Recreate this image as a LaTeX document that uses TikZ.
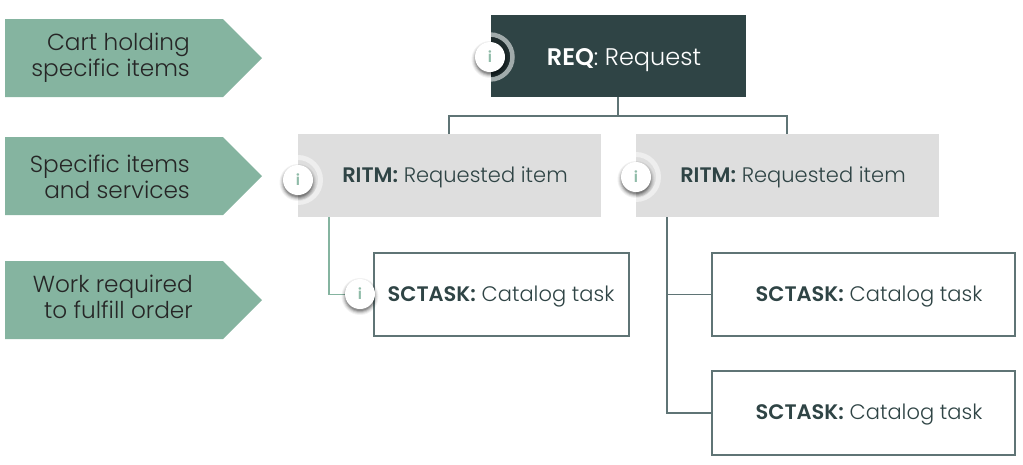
\documentclass[tikz,border=0pt]{standalone}
\usepackage{fontspec}
\setmainfont{Poppins}[UprightFont=* Light,BoldFont=* SemiBold]
\definecolor{dark}{HTML}{2F4445}
\definecolor{sage}{HTML}{85B4A0}
\definecolor{lgray}{HTML}{DEDEDE}
\definecolor{conn}{HTML}{5F7475}
\definecolor{tgreen}{HTML}{8FBBA8}
\newcommand{\pent}[1]{\fill[sage] (5,#1) -- (223,#1) -- (262,#1+39) -- (223,#1+78) -- (5,#1+78) -- cycle;}
\newcommand{\softshadow}[2]{%
  \foreach \r/\o in {18.5/.05,17.5/.07,16.5/.10,15.5/.14,14.5/.18}
    {\fill[black,opacity=\o] (#1,#2+2.5) circle (\r);}}
\tikzset{
  x=1pt,y=-1pt,
  box/.style={rectangle,inner sep=0pt,outer sep=0pt,anchor=north west},
  reqbox/.style={box,fill=dark,minimum width=255pt,minimum height=82pt},
  ritmbox/.style={box,fill=lgray,minimum width=303pt,minimum height=83pt},
  taskbox/.style={box,draw=conn,line width=1.1pt,fill=white},
  lab/.style={inner sep=0pt,anchor=east,align=right,text=black!85,font=\fontsize{23.2}{26}\selectfont},
  line/.style={draw=conn,line width=1.2pt},
  gline/.style={draw=sage,line width=1.2pt},
  badge/.style={circle,fill=white,minimum size=30pt,inner sep=0pt,text=tgreen,
    font=\bfseries\fontsize{15}{15}\selectfont},
  boxtext/.style={text=dark,font=\fontsize{21}{25}\selectfont},
}
\begin{document}
\begin{tikzpicture}
\useasboundingbox (0,0) rectangle (1023,464);
\pent{19}\pent{137}\pent{261}
\node[lab] (la) at (190,58) {Cart holding\\specific items};
\node[lab] (lb) at (190,176.5) {Specific items\\and services};
\node[lab] (lc) at (193,296.5) {Work required\\to fulfill order};

\node[reqbox] (req) at (491,15) {};
\node[ritmbox] (r1) at (298,134) {};
\node[ritmbox] (r2) at (636,134) {};
\node[taskbox,minimum width=255pt,minimum height=83pt] (t1) at (374,253) {};
\node[taskbox,minimum width=303pt,minimum height=83pt] (t2) at (712,253) {};
\node[taskbox,minimum width=303pt,minimum height=84pt] (t3) at (712,371) {};

\coordinate (jr) at (618,116);
\draw[line] (req.south -| jr) -- (jr);
\draw[line] (449,134) |- (787,116) -- (787,134);
\draw[gline] (329,217) |- (t1.west);
\draw[line] (667,217) |- (t3.west);
\draw[line] (667,294.5) -- (t2.west);

\begin{scope}
\clip (491,15) rectangle (746,97);
\fill[black!35!dark] (490,57) circle (21);
\draw[draw=white!55!dark,line width=4.5pt] (490,57) circle (22.5);
\end{scope}
\begin{scope}
\clip (298,134) rectangle (601,217);
\draw[draw=white!50!lgray,line width=5pt] (298,180) circle (22.5);
\end{scope}
\begin{scope}
\clip (636,134) rectangle (939,217);
\draw[draw=white!50!lgray,line width=5pt] (636,177) circle (22.5);
\end{scope}

\softshadow{490}{57}
\softshadow{298}{180}
\softshadow{636}{177}
\softshadow{360}{294}
\node[badge] (b1) at (490,57) {i};
\node[badge] (b2) at (298,180) {i};
\node[badge] (b3) at (636,177) {i};
\node[badge] (b4) at (360,294) {i};

\node[text=white,font=\fontsize{24}{28}\selectfont] (tr) at (624,60.5) {\textbf{REQ}: Request};
\node[boxtext] (t1a) at (455,177) {\textbf{RITM:} Requested item};
\node[boxtext] (t2a) at (793,177) {\textbf{RITM:} Requested item};
\node[boxtext] (t3a) at (501,296.5) {\textbf{SCTASK:} Catalog task};
\node[boxtext] (t4a) at (869,296.5) {\textbf{SCTASK:} Catalog task};
\node[boxtext] (t5a) at (869,415) {\textbf{SCTASK:} Catalog task};
\end{tikzpicture}
\end{document}
